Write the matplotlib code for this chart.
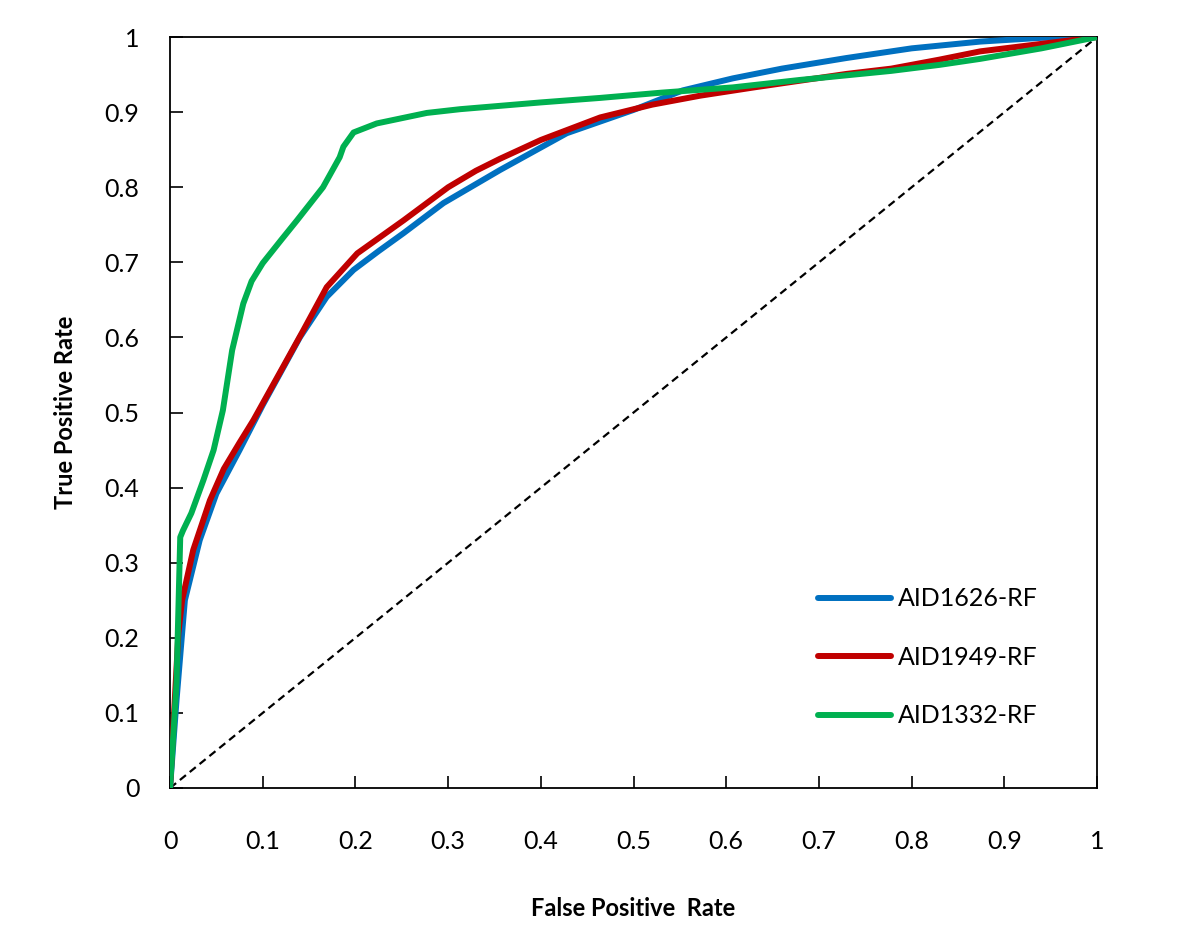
import matplotlib
matplotlib.use('Agg')
import matplotlib.pyplot as plt

plt.rcParams['font.family'] = ['Lato', 'DejaVu Sans']

# ROC points
blue_x = [0, 0.007, 0.016, 0.032, 0.05, 0.075, 0.1, 0.14, 0.169, 0.198, 0.225, 0.252,
          0.295, 0.356, 0.428, 0.5, 0.553, 0.607, 0.66, 0.729, 0.8, 0.874, 0.94, 1.0]
blue_y = [0, 0.117, 0.25, 0.33, 0.392, 0.45, 0.51, 0.60, 0.654, 0.69, 0.715, 0.739,
          0.779, 0.823, 0.872, 0.903, 0.929, 0.945, 0.958, 0.972, 0.985, 0.994, 0.999, 1.0]

red_x = [0, 0.009, 0.013, 0.025, 0.043, 0.058, 0.075, 0.09, 0.122, 0.144, 0.169, 0.202,
         0.252, 0.3, 0.33, 0.356, 0.4, 0.464, 0.52, 0.572, 0.63, 0.68, 0.73, 0.778,
         0.83, 0.874, 0.94, 1.0]
red_y = [0, 0.206, 0.25, 0.317, 0.383, 0.425, 0.46, 0.49, 0.561, 0.61, 0.667, 0.712,
         0.756, 0.80, 0.822, 0.838, 0.863, 0.893, 0.91, 0.922, 0.933, 0.942, 0.951, 0.958,
         0.97, 0.981, 0.991, 1.0]

green_x = [0, 0.007, 0.011, 0.014, 0.023, 0.036, 0.047, 0.057, 0.067, 0.079, 0.088, 0.1,
           0.12, 0.137, 0.165, 0.183, 0.187, 0.198, 0.223, 0.277, 0.313, 0.4, 0.464,
           0.53, 0.607, 0.68, 0.778, 0.83, 0.874, 0.94, 1.0]
green_y = [0, 0.14, 0.334, 0.343, 0.366, 0.41, 0.45, 0.503, 0.583, 0.645, 0.675, 0.699,
           0.73, 0.756, 0.8, 0.84, 0.854, 0.873, 0.885, 0.899, 0.904, 0.913, 0.919,
           0.926, 0.933, 0.943, 0.955, 0.963, 0.971, 0.985, 1.0]

series = [('AID1626-RF', blue_x, blue_y, '#0070c0'),
          ('AID1949-RF', red_x, red_y, '#c00000'),
          ('AID1332-RF', green_x, green_y, '#00b050')]

ticks = [0, 0.1, 0.2, 0.3, 0.4, 0.5, 0.6, 0.7, 0.8, 0.9, 1]
tick_labels = ['0', '0.1', '0.2', '0.3', '0.4', '0.5', '0.6', '0.7', '0.8', '0.9', '1']

fig = plt.figure(figsize=(12, 9.51), dpi=100)
ax = fig.add_axes([0.1417, 0.1714, 0.7725, 0.7896])

# diagonal reference
ax.plot([0, 1], [0, 1], color='black', lw=1.6, ls=(0, (3.5, 2.2)), zorder=2)

for name, xs, ys, col in series:
    ax.plot(xs, ys, color=col, lw=4.3, label=name, solid_joinstyle='round',
            solid_capstyle='round', zorder=3)

ax.set_xlim(0, 1)
ax.set_ylim(0, 1)
ax.set_xticks(ticks)
ax.set_xticklabels(tick_labels)
ax.set_yticks(ticks)
ax.set_yticklabels(tick_labels)
ax.tick_params(direction='in', length=9, width=1.2, labelsize=18)
ax.tick_params(axis='x', pad=30)
ax.tick_params(axis='y', pad=22)
for sp in ax.spines.values():
    sp.set_linewidth(1.3)

ax.set_xlabel('False Positive  Rate', fontsize=17, fontweight='bold', labelpad=32)
ax.set_ylabel('True Positive Rate', fontsize=17, fontweight='bold', labelpad=20)

leg = ax.legend(loc='upper left', bbox_to_anchor=(0.675, 0.297), frameon=False,
                fontsize=18, handlelength=2.9, handletextpad=0.3, labelspacing=1.42)

fig.savefig('out.png', dpi=100)
